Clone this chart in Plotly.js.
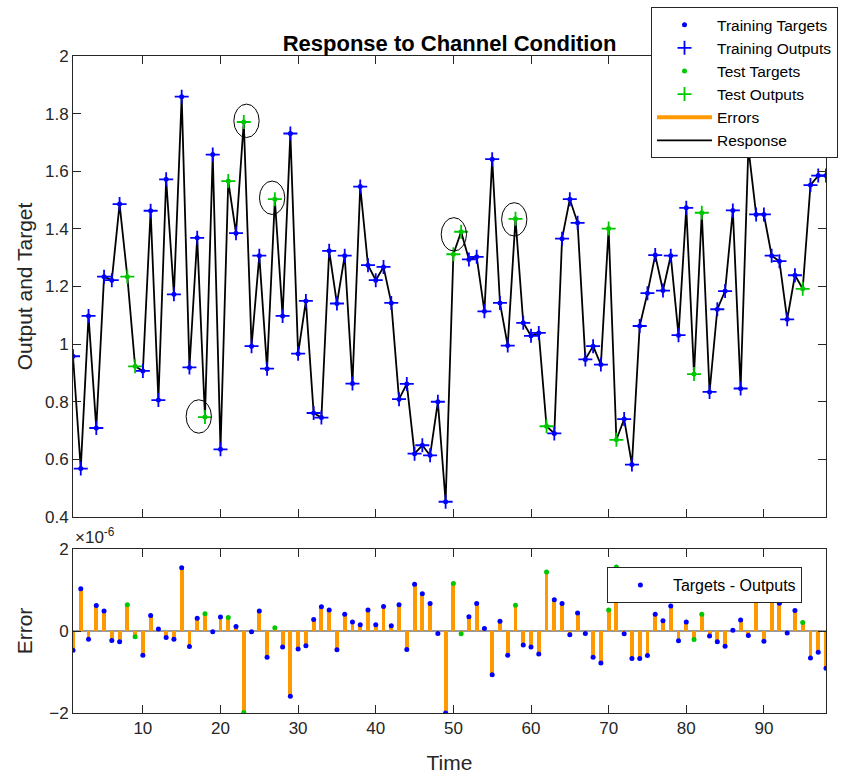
<!DOCTYPE html>
<html><head><meta charset="utf-8">
<script src="https://cdn.plot.ly/plotly-3.0.1.min.js"></script>
<style>html,body{margin:0;padding:0;background:#fff}</style>
</head><body><div id="chart" style="width:854px;height:777px"></div>
<script>
const time = [1,2,3,4,5,6,7,8,9,10,11,12,13,14,15,16,17,18,19,20,21,22,23,24,25,26,27,28,29,30,31,32,33,34,35,36,37,38,39,40,41,42,43,44,45,46,47,48,49,50,51,52,53,54,55,56,57,58,59,60,61,62,63,64,65,66,67,68,69,70,71,72,73,74,75,76,77,78,79,80,81,82,83,84,85,86,87,88,89,90,91,92,93,94,95,96,97,98];
const outputs = [0.958,0.568,1.098,0.709,1.234,1.222,1.486,1.234,0.923,0.907,
 1.463,0.806,1.572,1.173,1.859,0.919,1.369,0.747,1.658,0.635,
 1.566,1.385,1.771,0.993,1.307,0.915,1.503,1.098,1.731,0.967,
 1.150,0.761,0.745,1.324,1.141,1.307,0.863,1.547,1.274,1.222,
 1.268,1.143,0.809,0.862,0.620,0.649,0.614,0.800,0.453,1.312,
 1.390,1.294,1.303,1.114,1.642,1.143,0.995,1.435,1.074,1.029,
 1.039,0.715,0.690,1.366,1.503,1.421,0.947,0.993,0.929,1.401,
 0.668,0.740,0.582,1.063,1.177,1.309,1.186,1.307,1.031,1.473,
 0.896,1.456,0.834,1.121,1.184,1.464,0.846,1.682,1.450,1.450,
 1.307,1.288,1.086,1.239,1.192,1.552,1.585,1.585];
// Targets - Outputs, in units of 1e-6
const errorsE6 = [-0.47,1.03,-0.20,0.62,0.49,-0.23,-0.26,0.64,-0.14,-0.59,
 0.38,0.05,-0.16,-0.20,1.54,-0.38,0.31,0.42,-0.02,0.34,
 0.33,0.11,-1.99,-0.02,0.49,-0.64,0.08,-0.39,-1.59,-0.44,
 -0.36,0.28,0.59,0.51,-0.46,0.41,0.22,0.15,0.51,0.15,
 0.60,0.13,0.64,-0.45,1.14,0.91,0.67,-0.06,-2.00,1.16,
 -0.07,0.35,0.67,0.06,-1.07,0.24,-0.59,0.63,-0.34,-0.39,
 -0.56,1.44,0.76,0.67,-0.09,0.44,-0.06,-0.64,-0.78,0.51,
 1.56,-0.07,-0.67,-0.67,-0.60,0.41,0.25,0.61,-0.24,0.22,
 -0.21,0.41,-0.12,-0.26,-0.37,0.02,0.27,-0.11,0.80,-0.25,
 0.85,0.68,-0.05,0.50,0.21,-0.66,-0.52,-0.91];
const testTimes = [8,9,18,21,23,27,50,51,58,62,70,71,81,82,95];
const circleTime = [17.2,23.35,26.65,50.06,57.84];
const circleValue = [0.749,1.775,1.508,1.381,1.433];
const yTicksTop = [0.4,0.6,0.8,1,1.2,1.4,1.6,1.8,2];
const yTickTextTop = ['0.4','0.6','0.8','1','1.2','1.4','1.6','1.8','2'];
const xTicks = [10,20,30,40,50,60,70,80,90];
const yTicksBottom = [-2,0,2];

const BLUE = '#0000FF', GREEN = '#00C800', ORANGE = '#FF9900', AX = '#262626';
const FONT = 'Liberation Sans, Arial, sans-serif';

const targets = outputs.map((o, i) => o + errorsE6[i] * 1e-6);
const isTest = time.map(t => testTimes.includes(t));
function pick(arr, test) { return arr.filter((v, i) => isTest[i] === test); }

const errSegX = [], errSegY = [];
time.forEach((t, i) => { errSegX.push(t, t, null); errSegY.push(outputs[i], targets[i], null); });

const traces = [
  {x: time, y: outputs, mode: 'lines', line: {color: '#000', width: 1.8}, name: 'Response',
   xaxis: 'x2', yaxis: 'y2', legendrank: 6},
  {x: errSegX, y: errSegY, mode: 'lines', line: {color: ORANGE, width: 4}, name: 'Errors',
   xaxis: 'x2', yaxis: 'y2', legendrank: 5},
  {x: pick(time, false), y: pick(targets, false), mode: 'markers', name: 'Training Targets',
   marker: {color: BLUE, size: 5}, xaxis: 'x2', yaxis: 'y2', legendrank: 1},
  {x: pick(time, false), y: pick(outputs, false), mode: 'markers', name: 'Training Outputs',
   marker: {symbol: 'cross-thin', size: 10, line: {color: BLUE, width: 1.8}}, xaxis: 'x2', yaxis: 'y2', legendrank: 2},
  {x: pick(time, true), y: pick(targets, true), mode: 'markers', name: 'Test Targets',
   marker: {color: GREEN, size: 5}, xaxis: 'x2', yaxis: 'y2', legendrank: 3},
  {x: pick(time, true), y: pick(outputs, true), mode: 'markers', name: 'Test Outputs',
   marker: {symbol: 'cross-thin', size: 10, line: {color: GREEN, width: 1.8}}, xaxis: 'x2', yaxis: 'y2', legendrank: 4},
  // bottom error plot
  {type: 'bar', x: time, y: errorsE6, width: 0.5, marker: {color: ORANGE, line: {width: 0}},
   showlegend: false, xaxis: 'x', yaxis: 'y', hoverinfo: 'skip'},
  {x: pick(time, false), y: pick(errorsE6, false), mode: 'markers', name: 'Targets - Outputs',
   marker: {color: BLUE, size: 5}, xaxis: 'x', yaxis: 'y', legend: 'legend2'},
  {x: pick(time, true), y: pick(errorsE6, true), mode: 'markers', name: 'Test errors',
   marker: {color: GREEN, size: 5}, xaxis: 'x', yaxis: 'y', showlegend: false}
];

const shapes = circleTime.map((t, i) => ({
  type: 'circle', xref: 'x2', yref: 'y2', x0: t - 1.63, x1: t + 1.63,
  y0: circleValue[i] - 0.058, y1: circleValue[i] + 0.058, line: {color: '#000', width: 1}
}));

const axCommon = {showline: true, linecolor: AX, linewidth: 1, mirror: 'ticks', ticks: 'inside',
  ticklen: 8, tickcolor: AX, showgrid: false, zeroline: false, automargin: false,
  tickfont: {family: FONT, size: 17, color: AX}};

const layout = {
  width: 854, height: 777, paper_bgcolor: '#fff', plot_bgcolor: '#fff',
  margin: {l: 73, r: 28, t: 56, b: 64, autoexpand: false},
  font: {family: FONT, color: AX},
  showlegend: true,
  bargap: 0,
  title: {text: 'Response to Channel Condition', font: {family: FONT, size: 22, color: '#000', weight: 'bold'},
    x: 0.5, xref: 'paper', xanchor: 'center', y: 1, yref: 'paper', yanchor: 'bottom', pad: {b: 5}},
  xaxis: Object.assign({}, axCommon, {domain: [0, 1], range: [1, 98], tickvals: xTicks, anchor: 'y',
    title: {text: 'Time', font: {family: FONT, size: 21, color: AX}, standoff: 17}}),
  yaxis: Object.assign({}, axCommon, {domain: [0, 0.2496], range: [-2, 2], tickvals: yTicksBottom, anchor: 'x',
    zeroline: true, zerolinecolor: '#9a9a9a', zerolinewidth: 1.5,
    title: {text: 'Error', font: {family: FONT, size: 21, color: AX}, standoff: 10}}),
  xaxis2: Object.assign({}, axCommon, {domain: [0, 1], range: [1, 98], tickvals: xTicks, anchor: 'y2',
    matches: 'x', showticklabels: false}),
  yaxis2: Object.assign({}, axCommon, {domain: [0.2983, 1], range: [0.4, 2], tickvals: yTicksTop,
    ticktext: yTickTextTop, anchor: 'x2',
    title: {text: 'Output and Target', font: {family: FONT, size: 21, color: AX}, standoff: 6}}),
  legend: {x: 0.7676, y: 1.0745, xanchor: 'left', yanchor: 'top', bgcolor: '#fff',
    bordercolor: AX, borderwidth: 1, font: {family: FONT, size: 15.5, color: '#000'},
    itemwidth: 55, traceorder: 'normal', tracegroupgap: 0},
  legend2: {x: 0.709, y: 0.2222, xanchor: 'left', yanchor: 'top', bgcolor: '#fff',
    bordercolor: AX, borderwidth: 1, font: {family: FONT, size: 16, color: '#000'},
    itemwidth: 55},
  shapes: shapes,
  annotations: [{text: '×10<sup>-6</sup>', xref: 'paper', yref: 'paper', x: 0, y: 0.2496,
    xanchor: 'left', yanchor: 'bottom', showarrow: false, font: {family: FONT, size: 17, color: AX}, yshift: 0}]
};

Plotly.newPlot('chart', traces, layout, {displayModeBar: false, staticPlot: true});
</script></body></html>
